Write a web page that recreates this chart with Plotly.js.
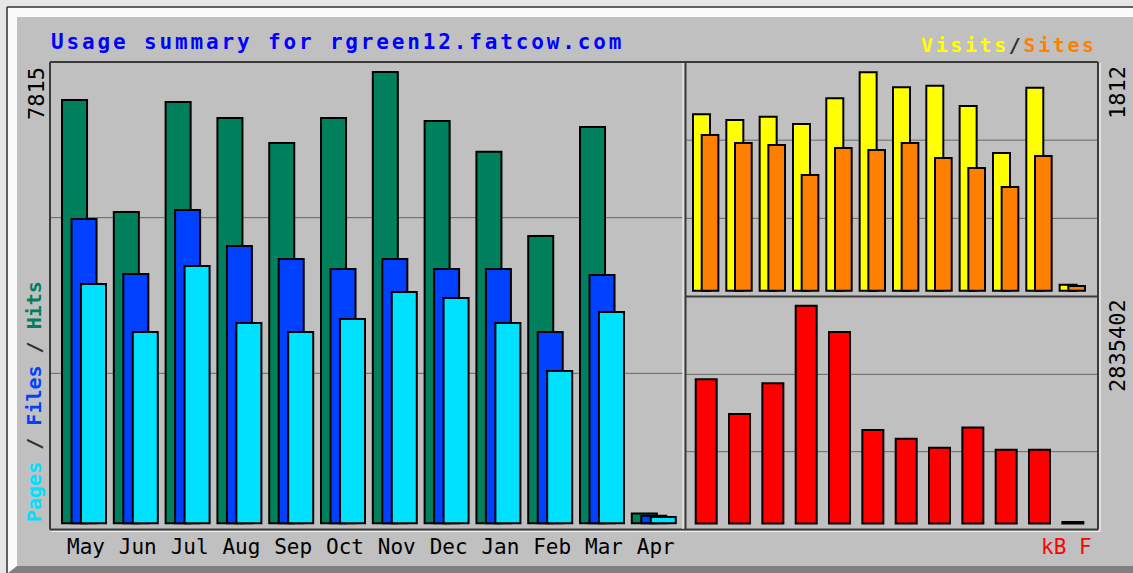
<!DOCTYPE html>
<html>
<head>
<meta charset="utf-8">
<script src="https://cdn.plot.ly/plotly-3.0.1.min.js"></script>
<style>
html,body{margin:0;padding:0;background:#e6e6e6;}
#chart{width:1133px;height:573px;}
.annotation[data-index="0"] text{letter-spacing:2.85px;}
.annotation[data-index="1"] text{letter-spacing:2.6px;}
</style>
</head>
<body>
<div id="chart"></div>
<script>
// ---- data ----
const months = ['May','Jun','Jul','Aug','Sep','Oct','Nov','Dec','Jan','Feb','Mar','Apr'];
const hits   = [7330,5391,7296,7019,6584,7019,7815,6967,6433,4975,6864,170];
const files  = [5270,4317,5425,4802,4577,4404,4577,4404,4404,3313,4300,130];
const pages  = [4144,3313,4456,3469,3313,3538,4005,3902,3469,2637,3659,110];
const visits = [1463,1416,1443,1383,1596,1812,1687,1701,1532,1142,1684,50];
const sites  = [1292,1225,1209,960,1184,1167,1225,1101,1018,860,1117,40];
const kbytes = [1879400,1424800,1827400,2835402,2493700,1217000,1104000,987100,1250700,961100,961100,20000];
const titleText = 'Usage summary for rgreen12.fatcow.com';

// ---- layout helpers (pixel -> paper) ----
const W = 1133, H = 573;
const X = p => p / W;
const Y = p => 1 - p / H;
const maxHits = Math.max(...hits), maxVisits = Math.max(...visits), maxKb = Math.max(...kbytes);

const C = {hits:'#00805c', files:'#0040ff', pages:'#00e0ff', visits:'#ffff00', sites:'#ff8000', kb:'#ff0000'};
const outline = {color:'#000000', width:2};

function bar(x, y, color, offset, width, xa, ya, name){
  return {type:'bar', x:x, y:y, name:name, xaxis:xa, yaxis:ya, offset:offset, width:width,
    marker:{color:color, line:outline}, hoverinfo:'x+y'};
}

const data = [
  bar(months, hits,  C.hits,  -0.463, 0.483, 'x', 'y', 'Hits'),
  bar(months, files, C.files, -0.280, 0.483, 'x', 'y', 'Files'),
  bar(months, pages, C.pages, -0.097, 0.483, 'x', 'y', 'Pages'),
  bar(months, visits, C.visits, -0.39, 0.51, 'x2', 'y2', 'Visits'),
  bar(months, sites,  C.sites,  -0.129, 0.50, 'x2', 'y2', 'Sites'),
  bar(months, kbytes, C.kb,     -0.309, 0.63, 'x3', 'y3', 'kB F')
];

const monoFont = 'DejaVu Sans Mono, Liberation Mono, monospace';
const hid = {showgrid:false, zeroline:false, showline:false, ticks:''};

function line(x0,y0,x1,y1,color,w){
  return {type:'line', xref:'paper', yref:'paper', x0:X(x0), y0:Y(y0), x1:X(x1), y1:Y(y1),
    line:{color:color, width:w}, layer:'below'};
}
function rect(x0,y0,x1,y1,fill){
  return {type:'rect', xref:'paper', yref:'paper', x0:X(x0), y0:Y(y0), x1:X(x1), y1:Y(y1),
    fillcolor:fill, line:{width:0}, layer:'below'};
}
function grid(xr, yr, f){
  return {type:'line', xref:xr+' domain', yref:yr+' domain', x0:0, x1:1, y0:f, y1:f,
    line:{color:'#666666', width:1}, layer:'below'};
}

const shapes = [
  // outer bevel
  rect(7, 7, 1133, 573, '#fbfbfb'),
  line(7, 7, 1133, 7, '#303030', 1.5),
  line(7, 7, 7, 573, '#303030', 1.5),
  {type:'path', xref:'paper', yref:'paper', layer:'below', line:{width:0}, fillcolor:'#808080',
   path:`M ${X(8)},${Y(573)} L ${X(17)},${Y(566)} L ${X(1133)},${Y(566)} L ${X(1133)},${Y(573)} Z`},
  rect(17, 17, 1133, 566, '#c0c0c0'),
  // gridlines
  grid('x','y',1/3), grid('x','y',2/3),
  grid('x2','y2',1/3), grid('x2','y2',2/3),
  grid('x3','y3',1/3), grid('x3','y3',2/3),
  // frames
  line(50, 62, 1098, 62, '#3a3a3a', 2),
  line(50, 62, 50, 529.5, '#3a3a3a', 2),
  line(50, 529.5, 1098, 529.5, '#3a3a3a', 2),
  line(1098, 62, 1098, 529.5, '#3a3a3a', 2),
  line(685.5, 62, 685.5, 529.5, '#3a3a3a', 2),
  line(683, 63, 683, 529, '#f4f4f4', 1.2),
  line(685.5, 296.5, 1098, 296.5, '#3a3a3a', 2),
  line(51, 531.5, 1100, 531.5, '#f4f4f4', 1.2),
  line(1100, 63, 1100, 531.5, '#f4f4f4', 1.2)
];

const ann = (o) => Object.assign({xref:'paper', yref:'paper', showarrow:false, borderpad:0}, o);
const annotations = [
  ann({text:titleText, x:X(50), y:Y(42), xanchor:'left', yanchor:'middle', align:'left',
       font:{family:monoFont, size:21, color:'#0000ff', weight:'bold'}}),
  ann({text:'<span style="color:'+C.visits+'">Visits</span><span style="color:#303030">/</span><span style="color:'+C.sites+'">Sites</span>',
       x:X(920), y:Y(45), xanchor:'left', yanchor:'middle', align:'left',
       font:{family:monoFont, size:20, color:'#303030', weight:'bold'}}),
  ann({text:'<span style="color:'+C.pages+'">Pages</span> / <span style="color:'+C.files+'">Files</span> / <span style="color:'+C.hits+'">Hits</span>',
       x:X(34), y:Y(402), xanchor:'center', yanchor:'middle', textangle:-90,
       font:{family:monoFont, size:20, color:'#303030', weight:'bold'}}),
  ann({text:String(maxHits), x:X(36), y:Y(94), xanchor:'center', yanchor:'middle', textangle:-90,
       font:{family:monoFont, size:22, color:'#000'}}),
  ann({text:String(maxVisits), x:X(1117), y:Y(93), xanchor:'center', yanchor:'middle', textangle:-90,
       font:{family:monoFont, size:22, color:'#000'}}),
  ann({text:String(maxKb), x:X(1117), y:Y(346), xanchor:'center', yanchor:'middle', textangle:-90,
       font:{family:monoFont, size:22, color:'#000'}}),
  ann({text:'kB F', x:X(1040), y:Y(547), xanchor:'left', yanchor:'middle',
       font:{family:monoFont, size:21, color:'#ff0000'}})
];

const layout = {
  width:W, height:H, autosize:false,
  margin:{l:0, r:0, t:0, b:0, pad:0},
  paper_bgcolor:'#e6e6e6', plot_bgcolor:'rgba(0,0,0,0)',
  showlegend:false, barmode:'overlay',
  xaxis: Object.assign({}, hid, {domain:[X(50), X(683)], anchor:'y', type:'category',
        range:[-0.695, 11.525], showticklabels:true,
        tickfont:{family:monoFont, size:21, color:'#000'}, ticklabelstandoff:3}),
  yaxis: Object.assign({}, hid, {domain:[Y(529), Y(62)], anchor:'x',
        range:[-0.01263*maxHits, 1.02216*maxHits], showticklabels:false}),
  xaxis2: Object.assign({}, hid, {domain:[X(685), X(1097)], anchor:'y2', type:'category',
        range:[-0.63, 11.731], showticklabels:false}),
  yaxis2: Object.assign({}, hid, {domain:[Y(296.5), Y(62)], anchor:'x2',
        range:[-0.02656*maxVisits, 1.0472*maxVisits], showticklabels:false}),
  xaxis3: Object.assign({}, hid, {domain:[X(685), X(1097)], anchor:'y3', type:'category',
        range:[-0.63, 11.731], showticklabels:false}),
  yaxis3: Object.assign({}, hid, {domain:[Y(529), Y(297)], anchor:'x3',
        range:[-0.0252*maxKb, 1.0399*maxKb], showticklabels:false}),
  shapes:shapes,
  annotations:annotations
};

Plotly.newPlot('chart', data, layout, {displayModeBar:false, staticPlot:true});
</script>
</body>
</html>
